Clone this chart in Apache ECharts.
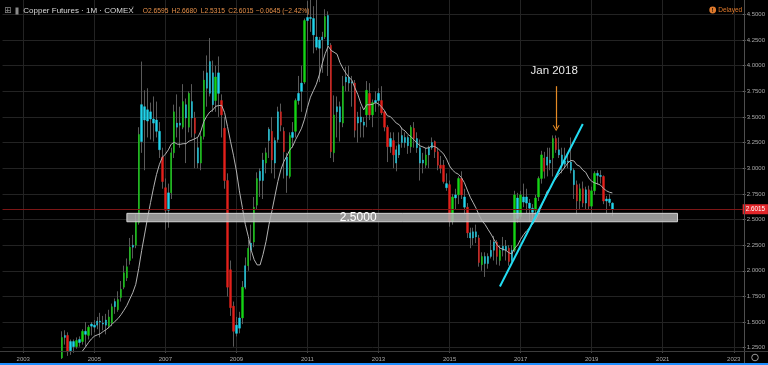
<!DOCTYPE html>
<html>
<head>
<meta charset="utf-8">
<script src="https://cdn.jsdelivr.net/npm/echarts@6/dist/echarts.min.js"></script>
<style>html,body{margin:0;padding:0;background:#000;}#chart{width:768px;height:365px;}</style>
</head>
<body>
<div id="chart"></div>
<script>
// ---------- DATA ----------
const firstBarMonth = '2004-01';
const maFirstMonth = '2004-08';
const open = [
1.05,1.15,1.35,1.37,1.22,1.31,1.26,1.30,1.31,1.41,1.37,1.46,
1.45,1.47,1.51,1.49,1.47,1.46,1.49,1.65,1.62,1.74,1.84,1.93,
2.10,2.23,2.25,2.47,3.26,3.60,3.46,3.55,3.48,3.47,3.36,3.11,
2.81,2.59,2.76,3.15,3.44,3.42,3.40,3.62,3.40,3.65,3.49,3.20,
3.05,3.31,3.93,3.73,3.93,3.66,3.93,3.66,3.39,2.88,2.01,1.655,
1.39,1.44,1.54,1.84,2.05,2.20,2.28,2.64,2.97,2.88,3.05,3.27,
3.36,3.05,3.28,3.55,3.36,3.11,2.92,3.30,3.36,3.66,3.75,3.84,
4.44,4.47,4.46,4.28,4.17,4.25,4.28,4.49,4.20,3.15,3.55,3.60,
3.44,3.84,3.89,3.83,3.83,3.44,3.50,3.45,3.52,3.73,3.52,3.64,
3.73,3.66,3.55,3.40,3.21,3.27,3.18,3.13,3.32,3.25,3.30,3.21,
3.39,3.29,3.20,3.05,3.03,3.13,3.20,3.26,3.16,3.03,3.03,2.85,
2.84,2.48,2.71,2.74,2.90,2.72,2.62,2.37,2.32,2.38,2.32,2.06,
2.14,2.07,2.14,2.20,2.28,2.10,2.20,2.24,2.22,2.10,2.20,2.71,
2.53,2.72,2.72,2.66,2.61,2.59,2.72,2.90,3.10,3.03,3.08,3.10,
3.29,3.18,3.13,3.04,3.07,3.06,2.98,2.84,2.68,2.80,2.66,2.79,
2.63,2.78,2.95,2.93,2.92,2.68,2.70,2.6595
];
const high = [
1.20,1.41,1.42,1.40,1.33,1.33,1.35,1.36,1.43,1.50,1.47,1.50,
1.52,1.55,1.59,1.56,1.58,1.62,1.68,1.73,1.80,1.90,2.05,2.12,
2.32,2.35,2.55,3.40,4.04,3.76,3.78,3.64,3.70,3.65,3.45,3.20,
2.90,2.85,3.20,3.62,3.72,3.60,3.82,3.68,3.75,3.82,3.55,3.30,
3.35,3.95,4.10,4.27,4.05,4.00,4.09,3.72,3.50,2.95,2.10,1.70,
1.55,1.60,1.90,2.13,2.30,2.45,2.72,2.96,3.00,3.15,3.20,3.40,
3.50,3.30,3.60,3.63,3.40,3.15,3.35,3.45,3.68,3.90,4.00,4.46,
4.63,4.65,4.58,4.64,4.28,4.33,4.55,4.53,4.22,3.71,3.70,3.65,
3.90,3.99,4.00,3.90,3.86,3.55,3.60,3.50,3.85,3.83,3.67,3.75,
3.78,3.80,3.56,3.42,3.35,3.35,3.22,3.35,3.40,3.35,3.32,3.42,
3.45,3.35,3.28,3.15,3.20,3.22,3.30,3.27,3.20,3.12,3.08,2.95,
2.88,2.75,2.80,2.92,2.97,2.80,2.66,2.42,2.42,2.45,2.35,2.18,
2.18,2.17,2.30,2.34,2.30,2.25,2.33,2.30,2.25,2.25,2.78,2.76,
2.78,2.85,2.80,2.70,2.65,2.74,2.92,3.17,3.16,3.20,3.20,3.32,
3.32,3.30,3.20,3.20,3.15,3.30,3.00,2.88,2.85,2.87,2.82,2.83,
2.82,2.97,2.98,2.98,2.93,2.73,2.75,2.668
];
const low = [
1.04,1.14,1.28,1.17,1.18,1.20,1.24,1.26,1.28,1.26,1.33,1.37,
1.40,1.43,1.35,1.42,1.38,1.44,1.46,1.58,1.60,1.70,1.82,1.90,
2.06,2.12,2.22,2.45,3.15,2.98,3.30,3.28,3.26,3.30,3.10,2.80,
2.40,2.42,2.70,3.10,3.30,3.20,3.38,3.05,3.35,3.30,3.00,3.00,
2.98,3.28,3.60,3.70,3.55,3.55,3.50,3.30,2.80,1.75,1.56,1.26,
1.36,1.39,1.48,1.82,2.00,2.10,2.23,2.60,2.72,2.70,2.95,3.10,
2.95,2.90,3.25,3.36,2.90,2.76,2.90,3.20,3.30,3.62,3.55,3.82,
4.24,4.33,4.12,4.15,3.84,3.93,4.26,3.90,3.10,3.06,3.30,3.26,
3.40,3.75,3.75,3.60,3.30,3.25,3.30,3.30,3.40,3.47,3.40,3.55,
3.60,3.52,3.36,3.06,3.15,3.00,2.97,3.10,3.20,3.20,3.14,3.15,
3.20,3.15,2.88,2.95,3.00,3.00,3.18,3.10,2.98,2.95,2.85,2.78,
2.43,2.45,2.60,2.65,2.70,2.55,2.32,2.22,2.25,2.27,2.04,2.00,
1.94,2.02,2.12,2.10,2.06,2.05,2.14,2.10,2.05,2.08,2.18,2.47,
2.50,2.62,2.56,2.48,2.50,2.55,2.68,2.85,2.90,2.92,2.98,2.92,
3.15,3.10,2.95,3.00,3.00,2.95,2.70,2.55,2.60,2.62,2.60,2.60,
2.55,2.74,2.84,2.85,2.65,2.56,2.63,2.5315
];
const close = [
1.15,1.35,1.37,1.21,1.31,1.26,1.32,1.33,1.41,1.38,1.45,1.48,
1.47,1.51,1.50,1.48,1.52,1.55,1.65,1.70,1.72,1.82,1.98,2.04,
2.23,2.25,2.48,3.33,3.62,3.47,3.57,3.48,3.44,3.36,3.18,2.87,
2.59,2.76,3.15,3.55,3.40,3.44,3.65,3.49,3.73,3.49,3.34,3.05,
3.31,3.86,3.78,4.04,3.62,3.89,3.73,3.52,2.88,1.84,1.64,1.41,
1.47,1.54,1.84,2.05,2.22,2.27,2.62,2.90,2.88,3.08,3.15,3.38,
3.08,3.27,3.55,3.42,3.16,2.93,3.32,3.35,3.66,3.73,3.83,4.44,
4.47,4.46,4.30,4.18,4.25,4.28,4.48,4.20,3.16,3.52,3.60,3.45,
3.80,3.89,3.83,3.84,3.37,3.50,3.45,3.42,3.76,3.52,3.64,3.66,
3.66,3.54,3.40,3.21,3.29,3.13,3.05,3.23,3.25,3.30,3.22,3.40,
3.29,3.20,3.05,3.08,3.13,3.20,3.25,3.16,3.03,3.00,2.87,2.81,
2.48,2.72,2.74,2.90,2.74,2.62,2.37,2.32,2.38,2.33,2.08,2.14,
2.07,2.14,2.20,2.28,2.14,2.20,2.24,2.20,2.09,2.20,2.74,2.51,
2.74,2.67,2.66,2.61,2.57,2.71,2.90,3.13,2.97,3.11,3.05,3.29,
3.18,3.13,3.04,3.07,3.06,2.98,2.84,2.68,2.80,2.66,2.79,2.63,
2.78,2.95,2.93,2.92,2.68,2.70,2.666,2.6015
];
// bar state per month: g = green, r = red, c = neutral (cyan)
const impulse = [
'ggcrccgcgcgc','cccccggcgggg','gcggcccccccr','rcggccgcgcrc','ggcccgcrrrrr',
'ccgcgcggccgc','rccrrcgcgccg','ccccccgcrgcc','gcccrcccgrgc','crrrcrcccccg',
'rcccgccrrrrc','rgcgrcrcccrg','ccccrgccrcgc','gccccgggrccg','rccccccrgrcr','ggccrccc'
].join('').split('');
// 12-month moving average of close
const ma12 = [
1.168,1.218,1.256,1.299,1.335,
1.362,1.375,1.386,1.408,1.426,1.450,1.478,1.508,1.534,1.571,1.615,1.662,
1.725,1.787,1.868,2.023,2.198,2.358,2.518,2.666,2.809,2.938,3.038,3.107,
3.137,3.179,3.235,3.253,3.235,3.233,3.239,3.240,3.264,3.275,3.288,3.303,
3.363,3.455,3.508,3.548,3.567,3.604,3.611,3.613,3.543,3.405,3.263,3.127,
2.973,2.780,2.618,2.453,2.336,2.201,2.108,2.057,2.057,2.160,2.286,2.450,
2.584,2.728,2.871,2.985,3.063,3.118,3.177,3.214,3.279,3.333,3.390,3.478,
3.594,3.693,3.756,3.819,3.910,4.023,4.119,4.190,4.148,4.131,4.112,4.029,
3.973,3.926,3.887,3.858,3.785,3.720,3.634,3.569,3.619,3.619,3.623,3.640,
3.628,3.599,3.563,3.511,3.504,3.473,3.440,3.424,3.382,3.363,3.328,3.307,
3.276,3.248,3.218,3.208,3.194,3.200,3.217,3.211,3.193,3.168,3.138,3.089,
3.022,2.982,2.956,2.941,2.908,2.860,2.787,2.717,2.663,2.607,2.541,2.485,
2.451,2.403,2.358,2.306,2.256,2.221,2.210,2.200,2.176,2.165,2.220,2.251,
2.307,2.351,2.389,2.417,2.453,2.495,2.550,2.628,2.701,2.777,2.803,2.868,
2.904,2.943,2.974,3.013,3.053,3.076,3.071,3.033,3.019,2.982,2.960,2.905,
2.872,2.857,2.848,2.835,2.803,2.780,2.766,2.759
];
const yTickValues = [1.25,1.5,1.75,2.0,2.25,2.5,2.75,3.0,3.25,3.5,3.75,4.0,4.25,4.5];
const xTickYears = [2003,2005,2007,2009,2011,2013,2015,2017,2019,2021,2023];
// annotations
const supportLevel = 2.5;
const supportBand = {from: '2005-12', to: '2021-06', low: 2.478, high: 2.560};
const trendLine = [['2016-06', 1.846], ['2018-10', 3.432]];
const arrowMonth = '2018-01';
const arrowLevels = [3.80, 3.39];
const noteLevel = 3.948;
const noteText = 'Jan 2018';

// ---------- BUILD ----------
const axisMonths = [];
for (let y = 2002, m = 6; y < 2023 || (y === 2023 && m <= 4);) {
  axisMonths.push(y + '-' + String(m).padStart(2, '0'));
  m++; if (m > 12) { m = 1; y++; }
}
const off = axisMonths.indexOf(firstBarMonth);
const maOff = axisMonths.indexOf(maFirstMonth);
const impulseColor = {g: '#14d414', r: '#e3201b', c: '#20d4ec'};
const wickColor = '#5a5a5a';

const wickData = axisMonths.map((m, i) => {
  const k = i - off;
  return (k >= 0 && k < close.length) ? [open[k], close[k], low[k], high[k]] : '-';
});
const bodyData = axisMonths.map((m, i) => {
  const k = i - off;
  if (k < 0 || k >= close.length) return '-';
  const col = impulseColor[impulse[k]];
  return {
    value: [open[k], close[k], Math.min(open[k], close[k]), Math.max(open[k], close[k])],
    itemStyle: {color: col, color0: col, borderColor: col, borderColor0: col}
  };
});
const maData = axisMonths.map((m, i) => {
  const k = i - maOff;
  return (k >= 0 && k < ma12.length) ? ma12[k] : '-';
});
const isYearTick = (idx, v) => {
  const s = typeof v === 'string' ? v : axisMonths[idx];
  return s.slice(5) === '01' && xTickYears.indexOf(+s.slice(0, 4)) >= 0;
};

const last = close.length - 1;
const lastClose = close[last];
const chg = lastClose - close[last - 1];
const chgPct = chg / close[last - 1] * 100;
const fmt4 = v => v.toFixed(4);
const minus = v => (v < 0 ? '\u2212' : '+');

const FONT = 'Liberation Sans, Arial, sans-serif';
const orange = '#e8914a';

const chart = echarts.init(document.getElementById('chart'), null, {renderer: 'canvas', width: 768, height: 365});
const option = {
  backgroundColor: '#000000',
  animation: false,
  grid: {left: 2.54, right: 24, top: 0, bottom: 14},
  xAxis: {
    type: 'category', data: axisMonths, boundaryGap: false,
    axisLine: {show: false},
    axisTick: {show: true, length: 2, interval: isYearTick, lineStyle: {color: '#4a4a4a'}},
    axisLabel: {interval: isYearTick, formatter: v => v.slice(0, 4), color: '#a8a8a8', fontSize: 6, fontFamily: FONT, margin: 5},
    splitLine: {show: true, interval: isYearTick, lineStyle: {color: '#232323', width: 1}}
  },
  yAxis: {
    type: 'value', position: 'right', min: 1.2178, max: 4.6404,
    axisLine: {show: false},
    axisTick: {show: true, length: 3, customValues: yTickValues, lineStyle: {color: '#6a6a6a'}},
    axisLabel: {customValues: yTickValues, formatter: v => fmt4(v), color: '#a8a8a8', fontSize: 6, fontFamily: FONT, margin: 4},
    splitLine: {show: true, lineStyle: {color: '#232323', width: 1}}
  },
  series: [
    {
      name: 'wick', type: 'candlestick', data: wickData, barWidth: 1,
      itemStyle: {color: wickColor, color0: wickColor, borderColor: wickColor, borderColor0: wickColor, borderWidth: 1},
      markLine: {
        silent: true, symbol: 'none', animation: false,
        lineStyle: {color: '#7c1616', width: 1, type: 'solid'},
        label: {show: true, position: 'end', distance: 0, formatter: () => fmt4(lastClose),
          backgroundColor: '#e3262a', color: '#ffffff', fontSize: 6.3, fontFamily: FONT,
          padding: [2, 3, 2, 3]},
        data: [{yAxis: lastClose}]
      }
    },
    {
      name: 'body', type: 'candlestick', data: bodyData, barWidth: 1.9,
      itemStyle: {borderWidth: 0.4},
      markLine: {
        silent: true, animation: false, z: 6,
        data: [
          [{coord: trendLine[0], symbol: 'none', lineStyle: {color: '#22dcf2', width: 2, type: 'solid'}},
           {coord: trendLine[1], symbol: 'none'}],
          [{coord: [arrowMonth, arrowLevels[0]], symbol: 'none', lineStyle: {color: '#e58a25', width: 1.2, type: 'solid'}},
           {coord: [arrowMonth, arrowLevels[1]], symbol: 'path://M0,10 L5,0 L10,10 L8.4,10 L5,3.2 L1.6,10 Z', symbolSize: [7, 6]}]
        ],
        label: {show: false}
      },
      markPoint: {
        silent: true, animation: false,
        symbol: 'circle', symbolSize: 1, itemStyle: {color: 'rgba(0,0,0,0)'},
        label: {show: true, position: 'inside', formatter: noteText, color: '#e8e8e8', fontSize: 11.5, fontFamily: FONT, offset: [-2, 0]},
        data: [{coord: [arrowMonth, noteLevel]}]
      }
    },
    {
      name: 'MA', type: 'line', data: maData, symbol: 'none', showSymbol: false,
      lineStyle: {color: '#b2b2b2', width: 1}, z: 3,
      markArea: {
        silent: true, z: 5,
        itemStyle: {color: 'rgba(175,175,175,0.85)', borderColor: '#d4d4d4', borderWidth: 1},
        label: {show: true, position: 'inside', formatter: fmt4(supportLevel), color: '#ffffff', fontSize: 12, fontFamily: FONT, offset: [-44, 0]},
        data: [[{coord: [supportBand.from, supportBand.low]}, {coord: [supportBand.to, supportBand.high]}]]
      }
    }
  ],
  graphic: [
    {type: 'rect', shape: {x: 0, y: 363, width: 768, height: 2}, style: {fill: '#1f8fff'}, z: 10},
    {type: 'line', shape: {x1: 744.5, y1: 0, x2: 744.5, y2: 363}, style: {stroke: '#4e4e4e', lineWidth: 1}, z: 10},
    {type: 'line', shape: {x1: 0, y1: 351.5, x2: 768, y2: 351.5}, style: {stroke: '#3c3c3c', lineWidth: 1}, z: 10},
    {type: 'circle', shape: {cx: 755, cy: 357.5, r: 3.3}, style: {fill: 'none', stroke: '#9a9a9a', lineWidth: 1}, z: 10},
    {type: 'text', x: 4, y: 11, style: {text: '\u229E', fill: '#8a8a8a', font: '9px DejaVu Sans', textVerticalAlign: 'middle', verticalAlign: 'middle'}, z: 10},
    {type: 'rect', shape: {x: 15.5, y: 7.5, width: 3, height: 7}, style: {fill: '#8a8a8a'}, z: 10},
    {type: 'text', x: 23.3, y: 11, style: {text: 'Copper Futures \u00B7 1M \u00B7 COMEX', fill: '#dadada', font: '8px ' + FONT, textVerticalAlign: 'middle', verticalAlign: 'middle'}, z: 10},
    {type: 'text', x: 131, y: 10.5, style: {text: '\u02C5', fill: '#9a9a9a', font: '7px DejaVu Sans', textVerticalAlign: 'middle', verticalAlign: 'middle'}, z: 10},
    {type: 'text', x: 142.7, y: 11, style: {text: 'O' + fmt4(open[last]), fill: orange, font: '6.7px ' + FONT, textVerticalAlign: 'middle', verticalAlign: 'middle'}, z: 10},
    {type: 'text', x: 171.7, y: 11, style: {text: 'H' + fmt4(high[last]), fill: orange, font: '6.7px ' + FONT, textVerticalAlign: 'middle', verticalAlign: 'middle'}, z: 10},
    {type: 'text', x: 200.7, y: 11, style: {text: 'L' + fmt4(low[last]), fill: orange, font: '6.7px ' + FONT, textVerticalAlign: 'middle', verticalAlign: 'middle'}, z: 10},
    {type: 'text', x: 228.3, y: 11, style: {text: 'C' + fmt4(lastClose), fill: orange, font: '6.7px ' + FONT, textVerticalAlign: 'middle', verticalAlign: 'middle'}, z: 10},
    {type: 'text', x: 256, y: 11, style: {text: minus(chg) + fmt4(Math.abs(chg)) + ' (' + minus(chg) + Math.abs(chgPct).toFixed(2) + '%)', fill: orange, font: '6.7px ' + FONT, textVerticalAlign: 'middle', verticalAlign: 'middle'}, z: 10},
    {type: 'circle', shape: {cx: 712.7, cy: 10, r: 3.4}, style: {fill: '#e07a2c'}, z: 10},
    {type: 'text', x: 712.7, y: 10, style: {text: '!', fill: '#000', font: 'bold 5.5px ' + FONT, textAlign: 'center', align: 'center', textVerticalAlign: 'middle', verticalAlign: 'middle'}, z: 11},
    {type: 'text', x: 718.3, y: 10, style: {text: 'Delayed', fill: '#e07a2c', font: '6.5px ' + FONT, textVerticalAlign: 'middle', verticalAlign: 'middle'}, z: 10}
  ]
};
chart.setOption(option);
</script>
</body>
</html>
